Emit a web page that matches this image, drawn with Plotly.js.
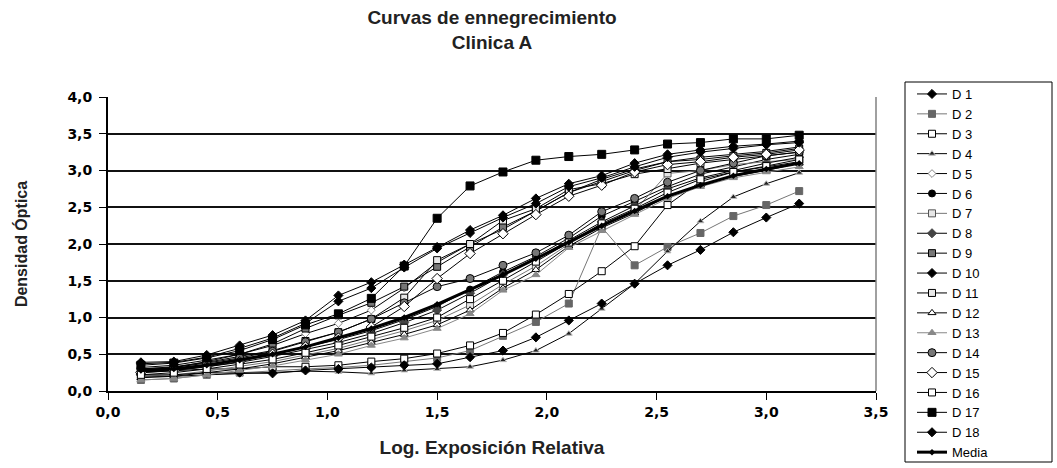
<!DOCTYPE html>
<html>
<head>
<meta charset="utf-8">
<script src="https://cdn.plot.ly/plotly-3.0.1.min.js"></script>
<style>html,body{margin:0;padding:0;background:#fff;}#chart{width:1057px;height:468px;}</style>
</head>
<body>
<div id="chart"></div>
<script>
// Log. exposición relativa (21 steps)
const logE = [0.15,0.30,0.45,0.60,0.75,0.90,1.05,1.20,1.35,1.50,1.65,1.80,1.95,2.10,2.25,2.40,2.55,2.70,2.85,3.00,3.15];

const D1  = [0.39,0.40,0.49,0.62,0.76,0.96,1.30,1.48,1.72,1.96,2.19,2.39,2.62,2.82,2.93,3.10,3.22,3.28,3.33,3.36,3.40];
const D2  = [0.15,0.17,0.22,0.25,0.28,0.30,0.32,0.35,0.40,0.45,0.55,0.75,0.94,1.19,2.23,1.71,1.96,2.15,2.38,2.53,2.72];
const D3  = [0.25,0.27,0.30,0.30,0.33,0.33,0.35,0.40,0.44,0.51,0.62,0.79,1.04,1.32,1.63,1.97,2.53,2.85,2.98,3.05,3.12];
const D4  = [0.20,0.20,0.22,0.24,0.25,0.27,0.26,0.24,0.28,0.30,0.33,0.42,0.55,0.78,1.12,1.46,1.90,2.31,2.64,2.82,2.97];
const D5  = [0.32,0.35,0.42,0.50,0.62,0.78,0.92,1.10,1.40,1.75,2.00,2.20,2.45,2.70,2.88,3.02,3.12,3.18,3.22,3.26,3.32];
const D6  = [0.28,0.30,0.36,0.42,0.50,0.60,0.70,0.82,0.97,1.15,1.38,1.62,1.83,2.08,2.38,2.58,2.78,2.95,3.05,3.15,3.22];
const D7  = [0.20,0.22,0.27,0.33,0.40,0.49,0.58,0.70,0.82,0.96,1.17,1.45,1.70,2.00,2.25,2.45,2.96,3.00,3.08,3.12,3.15];
const D8  = [0.26,0.28,0.33,0.39,0.47,0.56,0.66,0.78,0.93,1.10,1.33,1.58,1.80,2.05,2.30,2.52,2.75,2.90,3.00,3.10,3.18];
const D9  = [0.28,0.32,0.40,0.50,0.64,0.85,1.03,1.20,1.42,1.69,1.95,2.23,2.45,2.70,2.85,3.00,3.12,3.15,3.20,3.24,3.30];
const D10 = [0.22,0.22,0.25,0.25,0.24,0.28,0.30,0.32,0.35,0.37,0.46,0.55,0.73,0.96,1.19,1.46,1.71,1.92,2.16,2.36,2.55];
const D11 = [0.30,0.33,0.39,0.47,0.55,0.68,0.80,0.98,1.27,1.78,2.00,2.32,2.48,2.74,2.82,2.95,3.02,3.10,3.15,3.20,3.25];
const D12 = [0.18,0.20,0.25,0.30,0.37,0.46,0.55,0.66,0.77,0.90,1.10,1.40,1.65,1.97,2.22,2.42,2.65,2.80,2.92,3.00,3.10];
const D13 = [0.15,0.17,0.22,0.28,0.34,0.42,0.50,0.62,0.72,0.85,1.05,1.37,1.58,1.95,2.18,2.40,2.62,2.78,2.90,2.98,3.05];
const D14 = [0.30,0.32,0.38,0.45,0.54,0.67,0.80,0.98,1.20,1.42,1.53,1.71,1.88,2.12,2.44,2.62,2.84,3.00,3.10,3.20,3.25];
const D15 = [0.25,0.28,0.33,0.40,0.50,0.60,0.72,0.87,1.15,1.53,1.87,2.14,2.40,2.65,2.80,2.98,3.08,3.12,3.18,3.22,3.28];
const D16 = [0.22,0.25,0.30,0.36,0.43,0.52,0.62,0.74,0.86,1.00,1.25,1.50,1.76,2.02,2.28,2.48,2.70,2.88,2.98,3.06,3.15];
const D17 = [0.35,0.38,0.45,0.55,0.70,0.90,1.05,1.26,1.70,2.35,2.79,2.98,3.14,3.19,3.22,3.28,3.36,3.38,3.43,3.43,3.48];
const D18 = [0.37,0.39,0.46,0.58,0.72,0.92,1.22,1.40,1.68,1.94,2.15,2.36,2.55,2.78,2.90,3.05,3.18,3.25,3.30,3.35,3.38];
const Media = [0.28,0.30,0.35,0.42,0.50,0.60,0.72,0.85,1.00,1.18,1.38,1.58,1.80,2.02,2.25,2.45,2.65,2.80,2.93,3.02,3.10];

const xTicks = [0,0.5,1,1.5,2,2.5,3,3.5];
const yTicks = [0,0.5,1,1.5,2,2.5,3,3.5,4];

const FONT = 'Liberation Sans, Arial, Helvetica, sans-serif';
const TICKFONT = 'DejaVu Sans, Liberation Sans, Arial, sans-serif';

const styles = [
  ['D 1',  D1,  {symbol:'diamond', color:'#000', line:{color:'#000',width:1}, size:7}, '#000'],
  ['D 2',  D2,  {symbol:'square', color:'#666', line:{color:'#666',width:1}, size:7}, '#777'],
  ['D 3',  D3,  {symbol:'square', color:'#fff', line:{color:'#000',width:1}, size:7}, '#000'],
  ['D 4',  D4,  {symbol:'triangle-up', color:'#222', line:{color:'#bbb',width:1}, size:6}, '#000'],
  ['D 5',  D5,  {symbol:'diamond', color:'#fff', line:{color:'#888',width:1}, size:6}, '#000'],
  ['D 6',  D6,  {symbol:'circle', color:'#000', line:{color:'#000',width:1}, size:7}, '#000'],
  ['D 7',  D7,  {symbol:'square', color:'#e6e6e6', line:{color:'#555',width:1}, size:7}, '#777'],
  ['D 8',  D8,  {symbol:'diamond', color:'#444', line:{color:'#444',width:1}, size:7}, '#000'],
  ['D 9',  D9,  {symbol:'square', color:'#777', line:{color:'#000',width:1}, size:7}, '#000'],
  ['D 10', D10, {symbol:'diamond', color:'#000', line:{color:'#000',width:1}, size:7}, '#000'],
  ['D 11', D11, {symbol:'square', color:'#e8e8e8', line:{color:'#000',width:1}, size:7}, '#000'],
  ['D 12', D12, {symbol:'triangle-up', color:'#fff', line:{color:'#000',width:1}, size:7}, '#000'],
  ['D 13', D13, {symbol:'triangle-up', color:'#888', line:{color:'#888',width:1}, size:7}, '#888'],
  ['D 14', D14, {symbol:'circle', color:'#777', line:{color:'#000',width:1}, size:8}, '#000'],
  ['D 15', D15, {symbol:'diamond', color:'#fff', line:{color:'#000',width:1}, size:8}, '#000'],
  ['D 16', D16, {symbol:'square', color:'#fff', line:{color:'#000',width:1}, size:7}, '#000'],
  ['D 17', D17, {symbol:'square', color:'#000', line:{color:'#000',width:1}, size:8}, '#000'],
  ['D 18', D18, {symbol:'diamond', color:'#000', line:{color:'#000',width:1}, size:7}, '#000']
];

const traces = styles.map(s => ({
  type:'scatter', mode:'lines+markers', name:s[0], x:logE, y:s[1],
  marker:s[2], line:{color:s[3], width:1}
}));
traces.push({
  type:'scatter', mode:'lines+markers', name:'Media', x:logE, y:Media,
  marker:{symbol:'diamond', color:'#000', size:5}, line:{color:'#000', width:3}
});

const L = 108, R = 876, T = 97, B = 391;
const px2paperX = p => (p - L) / (R - L);
const px2paperY = p => (B - p) / (B - T);

const layout = {
  width:1057, height:468,
  margin:{l:L, r:1057-R, t:T, b:468-B, pad:0},
  paper_bgcolor:'#fff', plot_bgcolor:'#fff',
  separators:',.',
  showlegend:true,
  font:{family:FONT, color:'#000'},
  title:{
    text:'Curvas de ennegrecimiento<br>Clinica A',
    font:{family:FONT, size:19, weight:'bold', color:'#222'},
    xref:'paper', x:0.5, xanchor:'center',
    yref:'container', y:1 - 24/468, yanchor:'top'
  },
  xaxis:{
    range:[0,3.5], tickvals:xTicks, tickformat:'.1f',
    showgrid:false, zeroline:false,
    showline:true, linecolor:'#000', linewidth:2,
    ticks:'outside', ticklen:7, tickwidth:1, tickcolor:'#000',
    tickfont:{family:TICKFONT, size:14, weight:'bold', color:'#000'},
    title:{text:'Log. Exposición Relativa', font:{family:FONT, size:19, weight:'bold', color:'#222'}, standoff:22},
    automargin:false
  },
  yaxis:{
    range:[0,4], tickvals:yTicks, tickformat:'.1f',
    showgrid:true, gridcolor:'#111', gridwidth:2, zeroline:false,
    showline:true, linecolor:'#000', linewidth:2,
    ticks:'outside', ticklen:7, tickwidth:1, tickcolor:'#000',
    ticklabelstandoff:4,
    tickfont:{family:TICKFONT, size:14, weight:'bold', color:'#000'},
    title:{text:'Densidad Óptica', font:{family:FONT, size:16, weight:'bold', color:'#222'}, standoff:36},
    automargin:false
  },
  legend:{
    x:px2paperX(912), xanchor:'left', xref:'paper',
    y:px2paperY(86), yanchor:'top', yref:'paper',
    bgcolor:'rgba(0,0,0,0)', borderwidth:0,
    font:{family:FONT, size:13, color:'#000'},
    tracegroupgap:0, itemwidth:30, maxheight:440
  },
  shapes:[
    {type:'line', xref:'paper', yref:'paper', x0:1, x1:1, y0:0, y1:1, line:{color:'#808080', width:1.5}},
    {type:'rect', xref:'paper', yref:'paper', x0:px2paperX(905), x1:px2paperX(1052), y0:px2paperY(82), y1:px2paperY(462), line:{color:'#000', width:1}, fillcolor:'rgba(0,0,0,0)'}
  ]
};

Plotly.newPlot('chart', traces, layout, {displayModeBar:false, staticPlot:true});
</script>
</body>
</html>
